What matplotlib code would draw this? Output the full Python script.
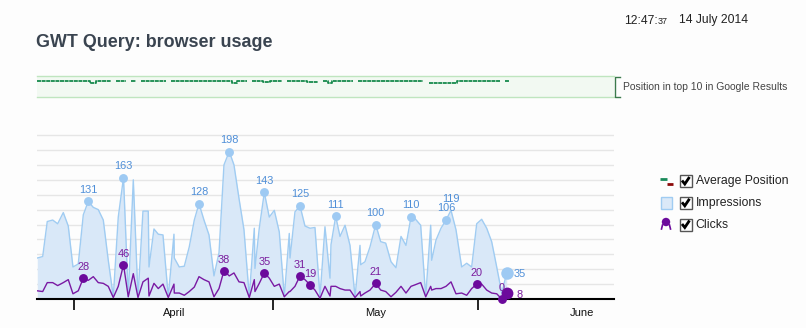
import numpy as np
import matplotlib
matplotlib.use('Agg')
import matplotlib.pyplot as plt
from matplotlib.patches import Rectangle, Circle

plt.rcParams['font.family'] = ['Liberation Sans', 'DejaVu Sans']

# ---------------- data ----------------
title = "GWT Query: browser usage"
timestamp_main = "12:47:"
timestamp_sec = "37"
timestamp_date = "14 July 2014"
strip_label = "Position in top 10 in Google Results"
legend_labels = ["Average Position", "Impressions", "Clicks"]

# x values are days counted from 1 April 2014
month_ticks = [0, 30, 61]
month_label_pos = [15.1, 45.55, 76.6]
month_labels = ["April", "May", "June"]

days = [-5.59, -4.77, -4.08, -3.26, -2.51, -1.66, -0.91, -0.20, 0.60, 1.36,
        2.11, 2.87, 3.62, 4.38, 5.13, 5.89, 6.64, 7.43, 8.15, 8.91,
        9.62, 10.37, 11.17, 11.28, 12.03, 12.68, 13.39, 14.19, 15.05, 15.10,
        15.85, 16.61, 17.36, 18.12, 18.83, 19.58, 20.34, 21.09, 21.85, 22.60,
        23.40, 24.11, 24.87, 25.62, 26.42, 27.18, 27.28, 27.93, 28.69, 29.44,
        30.20, 30.95, 31.71, 32.46, 32.57, 33.32, 34.08, 34.83, 35.59, 36.34,
        37.10, 37.85, 38.61, 38.76, 39.47, 40.12, 40.88, 41.63, 42.39, 43.14,
        43.24, 43.89, 44.65, 45.51, 46.26, 47.02, 47.82, 48.57, 49.33, 50.08,
        50.84, 51.44, 52.30, 53.06, 53.81, 53.96, 54.61, 55.37, 56.12, 56.88,
        57.63, 58.49, 59.25, 60.00, 60.76, 61.51, 62.27, 63.02, 63.78, 64.54,
        65.29]
impressions = [55, 57, 104, 106, 101, 116, 98, 43, 47, 113,
               131, 123, 120, 106, 52, 3, 110, 163, 3, 160,
               3, 118, 118, 43, 94, 87, 86, 3, 87, 55,
               43, 44, 70, 106, 128, 106, 86, 31, 62, 180,
               198, 180, 135, 93, 3, 95, 41, 95, 143, 110,
               119, 90, 3, 88, 55, 117, 125, 98, 95, 96,
               3, 97, 28, 73, 111, 84, 99, 72, 3, 72,
               46, 50, 70, 100, 77, 75, 50, 42, 84, 72,
               110, 108, 99, 3, 99, 52, 79, 95, 106, 119,
               93, 43, 48, 43, 101, 107, 95, 77, 43, 8,
               35]
clicks = [11, 10, 22, 22, 18, 22, 26, 7, 11, 28,
          25, 30, 22, 21, 17, 2, 17, 46, 3, 34,
          2, 23, 28, 4, 21, 14, 20, 2, 20, 8,
          8, 5, 10, 16, 30, 26, 23, 3, 14, 38,
          31, 35, 23, 22, 2, 26, 10, 21, 35, 28,
          17, 20, 3, 10, 10, 17, 31, 26, 19, 12,
          1, 17, 4, 17, 17, 14, 12, 12, 2, 10,
          4, 8, 12, 21, 12, 10, 3, 9, 17, 8,
          17, 19, 22, 3, 17, 12, 14, 14, 17, 23,
          7, 8, 5, 14, 20, 20, 12, 8, 7, 0,
          8]

imp_marker_days = [2.11, 7.43, 18.83, 23.40, 28.69, 34.08, 39.47, 45.51, 50.84, 56.12]
imp_marker_vals = [131, 163, 128, 198, 143, 125, 111, 100, 110, 106]
imp_peak_day, imp_peak_val = 56.88, 119
imp_last_day, imp_last_val = 65.29, 35

clk_marker_days = [1.36, 7.43, 22.60, 28.69, 34.08, 35.59, 45.51, 60.76, 64.54]
clk_marker_vals = [28, 46, 38, 35, 31, 19, 21, 20, 0]
clk_last_day, clk_last_val = 65.29, 8

# average position (steps, NaN = no data)
pos_days = [-5.59, 2.37, 3.23, 5.50, 6.30, 7.81, 8.56, 9.32, 10.07, 13.85,
            14.60, 23.77, 24.52, 26.03, 26.79, 28.49, 29.55, 31.31, 32.12, 35.09,
            36.80, 37.55, 38.31, 38.91, 42.04, 42.84, 52.65, 53.56, 57.78, 64.27,
            65.03, 65.63]
pos_vals = [3.0, 4.0, 3.0, np.nan, 3.0, np.nan, 3.0, np.nan, 3.0, np.nan,
            3.0, 3.6, 3.0, np.nan, 3.0, 3.5, 3.0, np.nan, 3.0, 3.3,
            np.nan, 3.0, 4.0, 3.0, np.nan, 3.0, np.nan, 3.6, 3.0, np.nan,
            3.0, 3.0]

# ---------------- styling ----------------
BG = '#fdfdfd'
IMP_FILL = '#d9e8f8'
IMP_LINE = '#a0ccf2'
IMP_MARK = '#9ecaf3'
IMP_TEXT = '#4f8fd8'
CLK_LINE = '#7a1aa3'
CLK_MARK = '#6c0a9c'
CLK_TEXT = '#7a1d9e'
POS_LINE = '#168a4c'

W, H = 806, 328
fig = plt.figure(figsize=(W / 100, H / 100), dpi=100)
fig.patch.set_facecolor(BG)


def fbox(x0, y0, x1, y1):
    return [x0 / W, 1 - y1 / H, (x1 - x0) / W, (y1 - y0) / H]


XLIM = (-5.63, 81.49)

# ---- main axes ----
ax = fig.add_axes(fbox(37, 134, 614, 299))
ax.set_facecolor(BG)
ax.set_xlim(*XLIM)
ax.set_ylim(0, 221.5)
ax.set_yticks(np.arange(20, 221, 20))
ax.yaxis.grid(True, color='#e6e6e6', lw=1.0)
ax.set_axisbelow(True)
ax.tick_params(axis='y', length=0, labelleft=False)
for s in ['left', 'right', 'top']:
    ax.spines[s].set_visible(False)
ax.spines['bottom'].set_color('black')
ax.spines['bottom'].set_linewidth(1.5)
ax.spines['bottom'].set_zorder(3)
ax.set_xticks(month_ticks)
ax.set_xticklabels([])
ax.tick_params(axis='x', direction='out', length=7.7, width=1.2, color='black')
for p, lab in zip(month_label_pos, month_labels):
    ax.text(p, -19.3, lab, ha='center', va='center', fontsize=8, color='#111111',
            clip_on=False)

ax.fill_between(days, impressions, 0, color=IMP_FILL, lw=0, zorder=1)
ax.plot(days, impressions, color=IMP_LINE, lw=1.0, zorder=2)
ax.plot(days, clicks, color=CLK_LINE, lw=1.0, zorder=4)

off = 8.4
lab_fs = 7.9
for d, v in zip(imp_marker_days, imp_marker_vals):
    ax.plot(d, v, 'o', ms=6.4, color=IMP_MARK, mec='none', zorder=5, clip_on=False)
    ax.annotate(str(v), (d, v), xytext=(0, off), textcoords='offset points',
                ha='center', va='center', fontsize=lab_fs, color=IMP_TEXT, zorder=7)
ax.annotate(str(imp_peak_val), (imp_peak_day, imp_peak_val), xytext=(0, off),
            textcoords='offset points', ha='center', va='center', fontsize=lab_fs,
            color=IMP_TEXT, zorder=7)
ax.plot(imp_last_day, imp_last_val, 'o', ms=9.0, color=IMP_MARK, mec='none', zorder=5,
        clip_on=False)
ax.annotate(str(imp_last_val), (imp_last_day, imp_last_val), xytext=(9.2, -0.8),
            textcoords='offset points', ha='center', va='center', fontsize=lab_fs,
            color=IMP_TEXT, zorder=7)

for d, v in zip(clk_marker_days, clk_marker_vals):
    ax.plot(d, v, 'o', ms=6.4, color=CLK_MARK, mec='none', zorder=6, clip_on=False)
    ax.annotate(str(v), (d, v), xytext=(0, 8.0), textcoords='offset points',
                ha='center', va='center', fontsize=lab_fs, color=CLK_TEXT, zorder=7)
ax.plot(clk_last_day, clk_last_val, 'o', ms=8.5, color=CLK_MARK, mec='none', zorder=6,
        clip_on=False)
ax.annotate(str(clk_last_val), (clk_last_day, clk_last_val), xytext=(9, -1.5),
            textcoords='offset points', ha='center', va='center', fontsize=lab_fs,
            color=CLK_TEXT, zorder=7)

# ---- average position strip ----
ax2 = fig.add_axes(fbox(37, 76, 614, 97))
ax2.set_facecolor('#f2f9f2')
ax2.set_xlim(*XLIM)
ax2.set_ylim(10.5, 0.5)
ax2.set_xticks([])
ax2.set_yticks([])
for s in ['left', 'right']:
    ax2.spines[s].set_visible(False)
for s in ['top', 'bottom']:
    ax2.spines[s].set_color('#bfe5bf')
    ax2.spines[s].set_linewidth(1.0)
ax2.plot(pos_days, pos_vals, drawstyle='steps-post', color=POS_LINE, lw=1.3,
         linestyle=(0, (2.2, 0.35)), solid_capstyle='butt')

# ---- overlay for texts and legend ----
ov = fig.add_axes([0, 0, 1, 1])
ov.set_xlim(0, W)
ov.set_ylim(H, 0)
ov.axis('off')
ov.patch.set_alpha(0)

ov.text(36, 47, title, ha='left', va='baseline', fontsize=12.9, fontweight='bold',
        color='#3a4450')
ov.text(624, 23.5, timestamp_main, ha='left', va='baseline', fontsize=8.7, color='#222222')
ov.text(657.5, 23.5, timestamp_sec, ha='left', va='baseline', fontsize=6.5, color='#222222')
ov.text(679, 23.5, timestamp_date, ha='left', va='baseline', fontsize=8.7, color='#222222')

# bracket
ov.plot([620, 614.5, 614.5, 620], [76.5, 76.5, 96.5, 96.5], color='#3b7a4b', lw=1.0)
ov.text(623, 87, strip_label, ha='left', va='center', fontsize=7.5, color='#444444')

# legend
ys = [181, 202.8, 224.5]
ov.plot([660, 667], [178.5, 178.5], color='#1a8a5a', lw=2.0, solid_capstyle='butt')
ov.plot([667, 673], [183.5, 183.5], color='#8b0a0a', lw=2.0, solid_capstyle='butt')
ov.add_patch(Rectangle((661, 196.5), 11, 12, facecolor='#dbe9f8', edgecolor='#a0ccf2', lw=1.0))
ov.add_patch(Circle((666, 222), 4.2, facecolor='#6c0a9c', edgecolor='none'))
ov.plot([662.5, 661.5], [225, 229], color='#6c0a9c', lw=1.2)
ov.plot([669.5, 670.5], [225, 229], color='#6c0a9c', lw=1.2)
for y, lab in zip(ys, legend_labels):
    ov.add_patch(Rectangle((679.5, y - 6), 12, 12, facecolor='white', edgecolor='#555555', lw=1.0))
    ov.plot([682, 684.8, 689.5], [y - 0.5, y + 3, y - 4], color='black', lw=2.0,
            solid_joinstyle='miter', solid_capstyle='butt')
    ov.text(695.5, y, lab, ha='left', va='center', fontsize=8.8, color='#222222')

fig.savefig('out.png', dpi=100, facecolor=BG)
